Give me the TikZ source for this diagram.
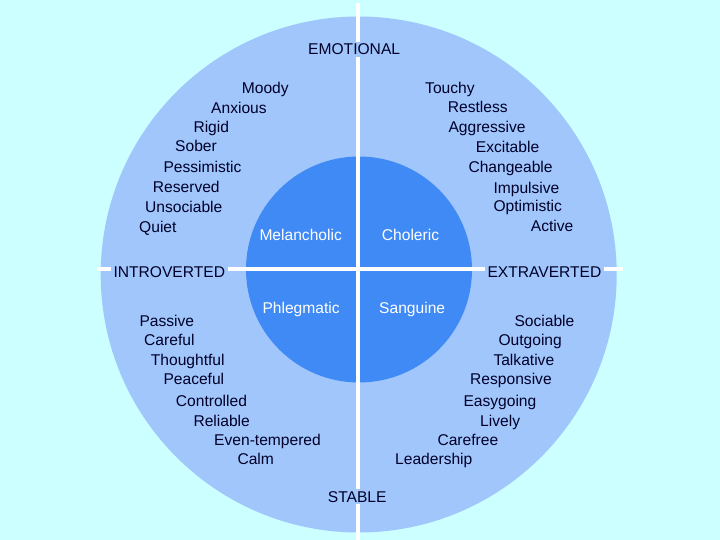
\documentclass[tikz,border=0pt]{standalone}
\usepackage{fontspec}
\setmainfont{Liberation Sans}
\definecolor{bgc}{RGB}{204,255,255}
\definecolor{outc}{RGB}{160,198,252}
\definecolor{innc}{RGB}{64,138,245}
\definecolor{navy}{RGB}{0,0,40}
\begin{document}
\begin{tikzpicture}[x=1pt,y=-1pt,
  w/.style={anchor=base west, inner sep=0pt, text=navy, font=\fontsize{15.6}{18}\selectfont},
  wi/.style={w, text=white},
  axislabel/.style={w, fill=outc, inner xsep=3pt, inner ysep=2pt},
  axisline/.style={draw=white, line width=3.5pt}]
\fill[bgc] (0,0) rectangle (720,540);
\useasboundingbox (0,0) rectangle (720,540);
\fill[outc] (358.7,274.5) circle (258);
\fill[innc] (359,269.5) circle (113);
\coordinate (vtop) at (358,3);
\coordinate (vbot) at (358,540);
\coordinate (hl) at (97,269);
\coordinate (hr) at (623,269);
\draw[axisline] (vtop) -- (vbot);
\draw[axisline] (hl) -- (hr);
% axis labels
\node[axislabel] (emo) at (305,54.8) {EMOTIONAL};
\node[axislabel] (sta) at (324.7,502.2) {STABLE};
\node[axislabel] (intro) at (110.3,277.8) {INTROVERTED};
\node[axislabel] (extra) at (484.3,277.8) {EXTRAVERTED};
% inner labels
\node[wi] (mel) at (259.3,240.5) {Melancholic};
\node[wi] (cho) at (381.7,240.5) {Choleric};
\node[wi] (phl) at (262.3,313.6) {Phlegmatic};
\node[wi] (san) at (379,313.6) {Sanguine};
% top left
\node[w] (moody) at (241.7,93.5) {Moody};
\node[w] (anx) at (211,113.2) {Anxious};
\node[w] (rig) at (193.3,132.8) {Rigid};
\node[w] (sob) at (175,151.5) {Sober};
\node[w] (pes) at (163.3,172.2) {Pessimistic};
\node[w] (res) at (152.7,192.8) {Reserved};
\node[w] (uns) at (145,212.2) {Unsociable};
\node[w] (qui) at (139,232.2) {Quiet};
% top right
\node[w] (tou) at (425,93.8) {Touchy};
\node[w] (rest) at (447.7,112.8) {Restless};
\node[w] (agg) at (448.3,132.8) {Aggressive};
\node[w] (exc) at (475.7,152.2) {Excitable};
\node[w] (cha) at (468.3,172.2) {Changeable};
\node[w] (imp) at (493.3,193.2) {Impulsive};
\node[w] (opt) at (493.3,211.5) {Optimistic};
\node[w] (act) at (530.7,231.2) {Active};
% bottom left
\node[w] (pas) at (139.3,326.5) {Passive};
\node[w] (car) at (144,345.5) {Careful};
\node[w] (tho) at (150.7,365.5) {Thoughtful};
\node[w] (pea) at (163.3,384.8) {Peaceful};
\node[w] (con) at (175.7,406.2) {Controlled};
\node[w] (rel) at (193.3,426.2) {Reliable};
\node[w] (eve) at (214,445.5) {Even-tempered};
\node[w] (cal) at (237.3,464.8) {Calm};
% bottom right
\node[w] (soc) at (514.3,326.5) {Sociable};
\node[w] (out) at (498.3,345.5) {Outgoing};
\node[w] (tal) at (493.3,365.5) {Talkative};
\node[w] (rsp) at (470,384.8) {Responsive};
\node[w] (eas) at (463.3,406.2) {Easygoing};
\node[w] (liv) at (480,426.2) {Lively};
\node[w] (cfr) at (437.3,445.5) {Carefree};
\node[w] (lea) at (395,464.8) {Leadership};
\end{tikzpicture}
\end{document}
